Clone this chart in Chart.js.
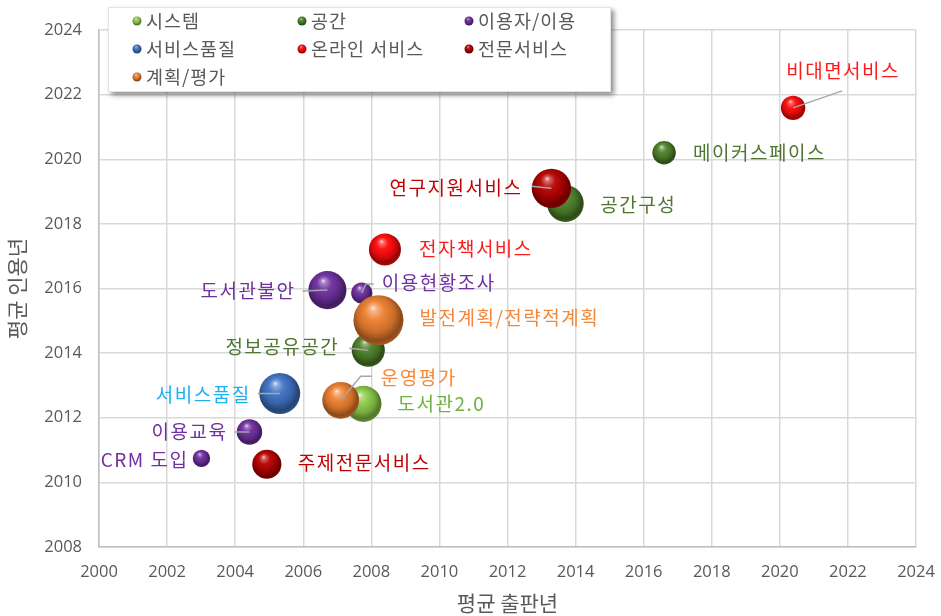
<!DOCTYPE html>
<html><head><meta charset="utf-8">
<script src="https://cdn.jsdelivr.net/npm/chart.js@4.4.0/dist/chart.umd.min.js"></script>
<style>html,body{margin:0;padding:0;background:#fff;}</style>
</head><body>
<canvas id="c" width="941" height="616" style="display:block;width:941px;height:616px"></canvas>
<script>
// ---------- DATA ----------
const seriesNames = ['시스템', '공간', '이용자/이용', '서비스품질', '온라인 서비스', '전문서비스', '계획/평가'];

const systemLabels = ['도서관2.0'];
const systemX = [2007.77];
const systemY = [2012.43];
const systemSize = [52];

const spaceLabels = ['메이커스페이스', '공간구성', '정보공유공간'];
const spaceX = [2016.60, 2013.70, 2007.91];
const spaceY = [2020.20, 2018.63, 2014.09];
const spaceSize = [22, 54, 44];

const userLabels = ['도서관불안', '이용현황조사', '이용교육', 'CRM 도입'];
const userX = [2006.71, 2007.72, 2004.42, 2003.01];
const userY = [2015.95, 2015.86, 2011.56, 2010.74];
const userSize = [58, 18, 26, 12];

const qualityLabels = ['서비스품질'];
const qualityX = [2005.31];
const qualityY = [2012.75];
const qualitySize = [67];

const onlineLabels = ['비대면서비스', '전자책서비스'];
const onlineX = [2020.39, 2008.40];
const onlineY = [2021.59, 2017.21];
const onlineSize = [24, 41];

const expertLabels = ['연구지원서비스', '주제전문서비스'];
const expertX = [2013.29, 2004.93];
const expertY = [2019.10, 2010.56];
const expertSize = [62, 34];

const planLabels = ['발전계획/전략적계획', '운영평가'];
const planX = [2008.21, 2007.10];
const planY = [2015.02, 2012.54];
const planSize = [100, 54];

const xTicks = [2000, 2002, 2004, 2006, 2008, 2010, 2012, 2014, 2016, 2018, 2020, 2022, 2024];
const yTicks = [2008, 2010, 2012, 2014, 2016, 2018, 2020, 2022, 2024];

// ---------- STYLE ----------
const sphereColors = ['#8CCB4A', '#4E822A', '#7030A0', '#3F74C4', '#FF0A0A', '#B80000', '#EE8030'];
const labelColors = ['#6DB33F', '#4F7630', '#7030A0', '#1DB0EE', '#FF1A1A', '#C00000', '#F4883A'];
const R_SCALE = 2.5;
const radiusOf = s => R_SCALE * Math.sqrt(s);

// label layout relative to bubble centre (pixels)
const labelLayout = {
  '비대면서비스': {dx: 50, dy: -37, align: 'center', line: [[49, -17]]},
  '메이커스페이스': {dx: 29, dy: 0, align: 'left'},
  '연구지원서비스': {dx: -29, dy: -1, align: 'right', line: [[-20, -2]]},
  '공간구성': {dx: 35, dy: 1, align: 'left'},
  '전자책서비스': {dx: 34, dy: -1, align: 'left'},
  '도서관불안': {dx: -32, dy: 1, align: 'right', line: [[-25, 1]]},
  '이용현황조사': {dx: 20, dy: -10, align: 'left', line: [[4, -9], [12, -9]]},
  '발전계획/전략적계획': {dx: 41, dy: -2, align: 'left'},
  '정보공유공간': {dx: -29, dy: -3, align: 'right', line: [[-19, -2]]},
  '서비스품질': {dx: -29, dy: 1, align: 'right', line: [[-22, 0]]},
  '운영평가': {dx: 40, dy: -23, align: 'left', line: [[20, -24], [31, -24]]},
  '도서관2.0': {dx: 34, dy: 0, align: 'left'},
  '이용교육': {dx: -22, dy: 0, align: 'right', line: [[-15, 0]]},
  'CRM 도입': {dx: -13, dy: 1, align: 'right'},
  '주제전문서비스': {dx: 31, dy: -1, align: 'left'}
};

const KFONT = "'Noto Sans CJK KR', 'Noto Sans', sans-serif";
const NFONT = "'Open Sans', 'Noto Sans CJK KR', sans-serif";

// ---------- helpers ----------
function hexToRgb(h) {
  h = h.replace('#', '');
  return [parseInt(h.slice(0, 2), 16), parseInt(h.slice(2, 4), 16), parseInt(h.slice(4, 6), 16)];
}
function shade(rgb, f) {
  let c = rgb.map(v => f >= 0 ? v + (255 - v) * f : v * (1 + f));
  return 'rgb(' + c.map(v => Math.round(v)).join(',') + ')';
}
function sphereGradient(ctx, cx, cy, r, hex) {
  const rgb = hexToRgb(hex);
  const g = ctx.createRadialGradient(cx - r * 0.22, cy - r * 0.5, r * 0.02, cx - r * 0.05, cy - r * 0.12, r * 1.12);
  g.addColorStop(0, shade(rgb, 0.8));
  g.addColorStop(0.1, shade(rgb, 0.4));
  g.addColorStop(0.32, shade(rgb, 0.05));
  g.addColorStop(0.65, shade(rgb, -0.15));
  g.addColorStop(0.88, shade(rgb, -0.42));
  g.addColorStop(1, shade(rgb, -0.3));
  return g;
}

const seriesData = [
  [systemLabels, systemX, systemY, systemSize],
  [spaceLabels, spaceX, spaceY, spaceSize],
  [userLabels, userX, userY, userSize],
  [qualityLabels, qualityX, qualityY, qualitySize],
  [onlineLabels, onlineX, onlineY, onlineSize],
  [expertLabels, expertX, expertY, expertSize],
  [planLabels, planX, planY, planSize]
];

const datasets = seriesData.map(([labs, xs, ys, ss], i) => ({
  label: seriesNames[i],
  data: xs.map((x, j) => ({x: x, y: ys[j], r: radiusOf(ss[j]), name: labs[j]})),
  order: seriesData.length - i,
  borderWidth: 0,
  backgroundColor: (c) => {
    const base = sphereColors[i];
    if (c.type !== 'data' || !c.raw) return base;
    const sx = c.chart.scales.x, sy = c.chart.scales.y;
    if (!sx || !sy) return base;
    const px = sx.getPixelForValue(c.raw.x), py = sy.getPixelForValue(c.raw.y);
    if (!isFinite(px) || !isFinite(py)) return base;
    return sphereGradient(c.chart.ctx, px, py, c.raw.r, base);
  }
}));

const labelPlugin = {
  id: 'bubbleLabels',
  afterDatasetsDraw(chart) {
    const ctx = chart.ctx;
    ctx.save();
    chart.data.datasets.forEach((ds, i) => {
      const meta = chart.getDatasetMeta(i);
      meta.data.forEach((el, j) => {
        const name = ds.data[j].name;
        const L = labelLayout[name];
        if (!L) return;
        const cx = el.x, cy = el.y;
        if (L.line) {
          ctx.beginPath();
          ctx.strokeStyle = '#A6A6A6';
          ctx.lineWidth = 1.5;
          ctx.moveTo(cx, cy);
          L.line.forEach(p => ctx.lineTo(cx + p[0], cy + p[1]));
          ctx.stroke();
        }
        ctx.fillStyle = labelColors[i];
        ctx.font = "19px " + KFONT;
        if ('letterSpacing' in ctx) ctx.letterSpacing = '1.5px';
        ctx.textAlign = L.align;
        ctx.textBaseline = 'middle';
        ctx.fillText(name, cx + L.dx, cy + L.dy);
      });
    });
    ctx.restore();
  }
};

const legendPlugin = {
  id: 'boxLegend',
  afterDraw(chart) {
    const ctx = chart.ctx;
    ctx.save();
    ctx.shadowColor = 'rgba(0,0,0,0.45)';
    ctx.shadowBlur = 5;
    ctx.shadowOffsetX = 3;
    ctx.shadowOffsetY = 3;
    ctx.fillStyle = '#ffffff';
    ctx.fillRect(108, 7, 503, 85);
    ctx.restore();
    ctx.save();
    ctx.strokeStyle = '#E4E4E4';
    ctx.lineWidth = 1;
    ctx.strokeRect(108.5, 7.5, 502, 84);
    const colX = [137, 302, 469];
    const rowY = [21, 49, 77];
    seriesNames.forEach((n, i) => {
      const mx = colX[i % 3], my = rowY[Math.floor(i / 3)];
      const r = 4.5;
      ctx.beginPath();
      ctx.fillStyle = sphereGradient(ctx, mx, my, r, sphereColors[i]);
      ctx.arc(mx, my, r, 0, Math.PI * 2);
      ctx.fill();
      ctx.fillStyle = '#595959';
      ctx.font = "18.5px " + KFONT;
      if ('letterSpacing' in ctx) ctx.letterSpacing = '1px';
      ctx.textAlign = 'left';
      ctx.textBaseline = 'middle';
      ctx.fillText(n, mx + 9, my);
    });
    ctx.restore();
  }
};

new Chart(document.getElementById('c'), {
  type: 'bubble',
  data: {datasets: datasets},
  options: {
    responsive: false,
    animation: false,
    events: [],
    devicePixelRatio: 1,
    layout: {padding: {top: 30, right: 22, left: 0, bottom: 0}},
    plugins: {legend: {display: false}, tooltip: {enabled: false}},
    scales: {
      x: {
        type: 'linear', min: 2000, max: 2024,
        afterBuildTicks: s => { s.ticks = xTicks.map(v => ({value: v})); },
        afterFit: s => { s.height = 69; s.paddingLeft = 0; s.paddingRight = 0; },
        grid: {color: '#D9D9D9', lineWidth: 1.5, drawTicks: false},
        border: {color: '#BFBFBF', width: 1.5},
        ticks: {color: '#595959', font: {family: NFONT, size: 16.5}, padding: 15, maxRotation: 0, callback: v => String(v)},
        title: {display: true, text: '평균 출판년', color: '#595959', font: {family: KFONT, size: 21}, padding: {top: 0, bottom: 0}}
      },
      y: {
        type: 'linear', min: 2008, max: 2024,
        afterBuildTicks: s => { s.ticks = yTicks.map(v => ({value: v})); },
        afterFit: s => { s.width = 99; s.paddingTop = 0; s.paddingBottom = 0; },
        grid: {color: '#D9D9D9', lineWidth: 1.5, drawTicks: false},
        border: {color: '#BFBFBF', width: 1.5},
        ticks: {color: '#595959', font: {family: NFONT, size: 16.5}, padding: 17, callback: v => String(v)},
        title: {display: true, text: '평균 인용년', color: '#595959', font: {family: KFONT, size: 21}, padding: {top: 4, bottom: 0}}
      }
    }
  },
  plugins: [labelPlugin, legendPlugin]
});
</script>
</body></html>
